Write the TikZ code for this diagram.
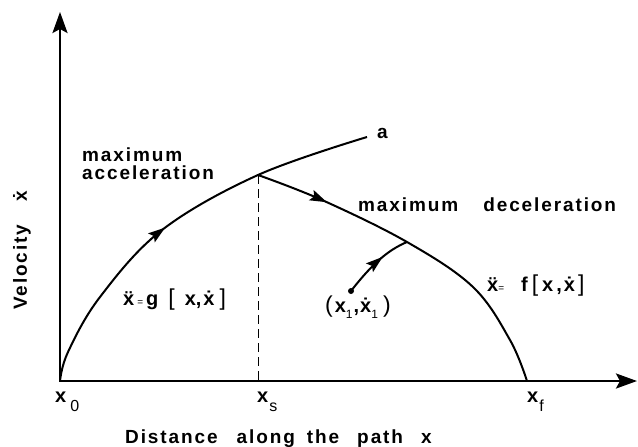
\documentclass[tikz,border=0pt]{standalone}
\usepackage{fontspec}
\setmainfont{Liberation Sans}
\newfontfamily\labfont[LetterSpace=10]{Liberation Sans}
\usetikzlibrary{arrows.meta,decorations.markings}
\begin{document}
\begin{tikzpicture}[x=1pt,y=-1pt,
  axisline/.style={line width=2.6pt,{Stealth[length=21pt,width=15pt,inset=4pt]}-{Stealth[length=21pt,width=15pt,inset=4pt]}},
  curveline/.style={line width=2pt},
  lab/.style={font=\labfont\bfseries\fontsize{19}{19}\selectfont, inner sep=0pt, anchor=base west},
  mlab/.style={font=\bfseries\fontsize{20}{20}\selectfont, inner sep=0pt, anchor=base west},
  midarrow/.style={postaction={decorate}, decoration={markings, mark=at position #1 with {\arrow{Stealth[length=17pt,width=11pt,inset=3pt]}}}},
]
\newcommand{\subnum}[1]{\raisebox{-9pt}{\mdseries\fontsize{16}{16}\selectfont #1}}
\newcommand{\subone}{\raisebox{-6pt}{\mdseries\fontsize{12}{12}\selectfont 1}}
\newcommand{\bigbr}[1]{{\mdseries\fontsize{23}{23}\selectfont #1}}
\newcommand{\smalleq}{{\mdseries\fontsize{10}{10}\selectfont =}}
\useasboundingbox (0,0) rectangle (638,447);
% key points
\coordinate (O) at (60,381);
\coordinate (Ytip) at (60,12);
\coordinate (Xtip) at (637,381);
\coordinate (S) at (258,175);
\coordinate (Sx) at (258,381);
\coordinate (A) at (367,137);
\coordinate (F) at (527,381);
\coordinate (P) at (351,291);
\coordinate (Q) at (407,242);
% axes
\draw[axisline] (Ytip) -- (O) -- (Xtip);
% switching line
\draw[line width=0.9pt, dash pattern=on 9pt off 5pt] (S) -- (Sx);
% maximum acceleration curve
\draw[curveline, midarrow=0.46] plot[smooth, tension=0.6] coordinates {(O) (68,352) (100,297) (162,230) (S) (A)};
% maximum deceleration curve
\draw[curveline, midarrow=0.21] plot[smooth, tension=0.6] coordinates {(S) (322,200) (Q) (473,287) (510,340) (F)};
% trajectory from (x1, x1dot)
\draw[curveline, midarrow=0.62] (P) .. controls (372,264) and (388,250) .. (Q);
\fill (P) circle (3pt);
% labels
\node[lab] (lmax) at (82,161) {maximum};
\node[lab] (lacc) at (82,179) {acceleration};
\node[lab] (la) at (377,138) {a};
\node[lab] (ldec) at (358,211) {maximum\hspace{25pt}deceleration};
\node[mlab] (lf) at (487,291) {\"x\smalleq\hspace{17pt}f\hspace{4pt}\bigbr{[}\hspace{4pt}x\hspace{3pt},\hspace{2pt}\.x\hspace{3pt}\bigbr{]}};
\node[mlab] (lg) at (123,305) {\"x\hspace{3pt}\smalleq\hspace{3pt}g\hspace{10pt}\bigbr{[}\hspace{10pt}x,\hspace{2pt}\.x\hspace{5pt}\bigbr{]}};
\node[mlab] (lp) at (325,312) {\bigbr{(}\hspace{2pt}x\subone\hspace{1pt},\hspace{1pt}\.x\subone\hspace{5pt}\bigbr{)}};
\node[lab, rotate=90] (lv) at (27,310) {Velocity\hspace{23pt}\.x};
\node[mlab] (lx0) at (55,402) {x\hspace{4pt}\subnum{0}};
\node[mlab] (lxs) at (257,402) {x\hspace{1pt}\subnum{s}};
\node[mlab] (lxf) at (527,402) {x\hspace{1pt}\subnum{f}};
\node[lab] (ldist) at (125,443) {Distance\hspace{19pt}along\hspace{12pt}the\hspace{18pt}path\hspace{18pt}x};
\end{tikzpicture}
\end{document}
